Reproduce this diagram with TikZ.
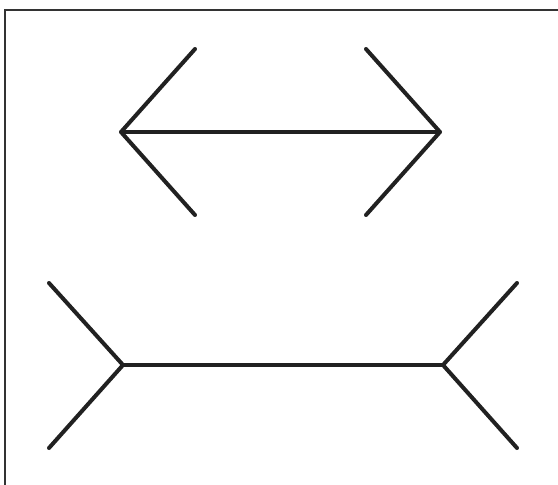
\documentclass[tikz,border=0pt]{standalone}
\begin{document}
\begin{tikzpicture}[x=1pt,y=-1pt]
\tikzset{fin/.style={line width=4pt, line cap=round, line join=round, draw=black!87}}
\useasboundingbox (0,0) rectangle (558,485);
\fill[white] (0,0) rectangle (558,485);
% frame
\draw[line width=2pt, black!80] (4.5,485) -- (4.5,9.5) -- (558,9.5);
% upper figure, fins pointing out
\coordinate (ul) at (121,132);
\coordinate (ur) at (440,132);
\draw[fin] (ul) -- (ur);
\draw[fin] (195,49) -- (ul) -- (195,215);
\draw[fin] (366,49) -- (ur) -- (366,215);
% lower figure, fins pointing in
\coordinate (ll) at (123,365);
\coordinate (lr) at (443,365);
\draw[fin] (ll) -- (lr);
\draw[fin] (49,283) -- (ll) -- (49,448);
\draw[fin] (517,283) -- (lr) -- (517,448);
\end{tikzpicture}
\end{document}
